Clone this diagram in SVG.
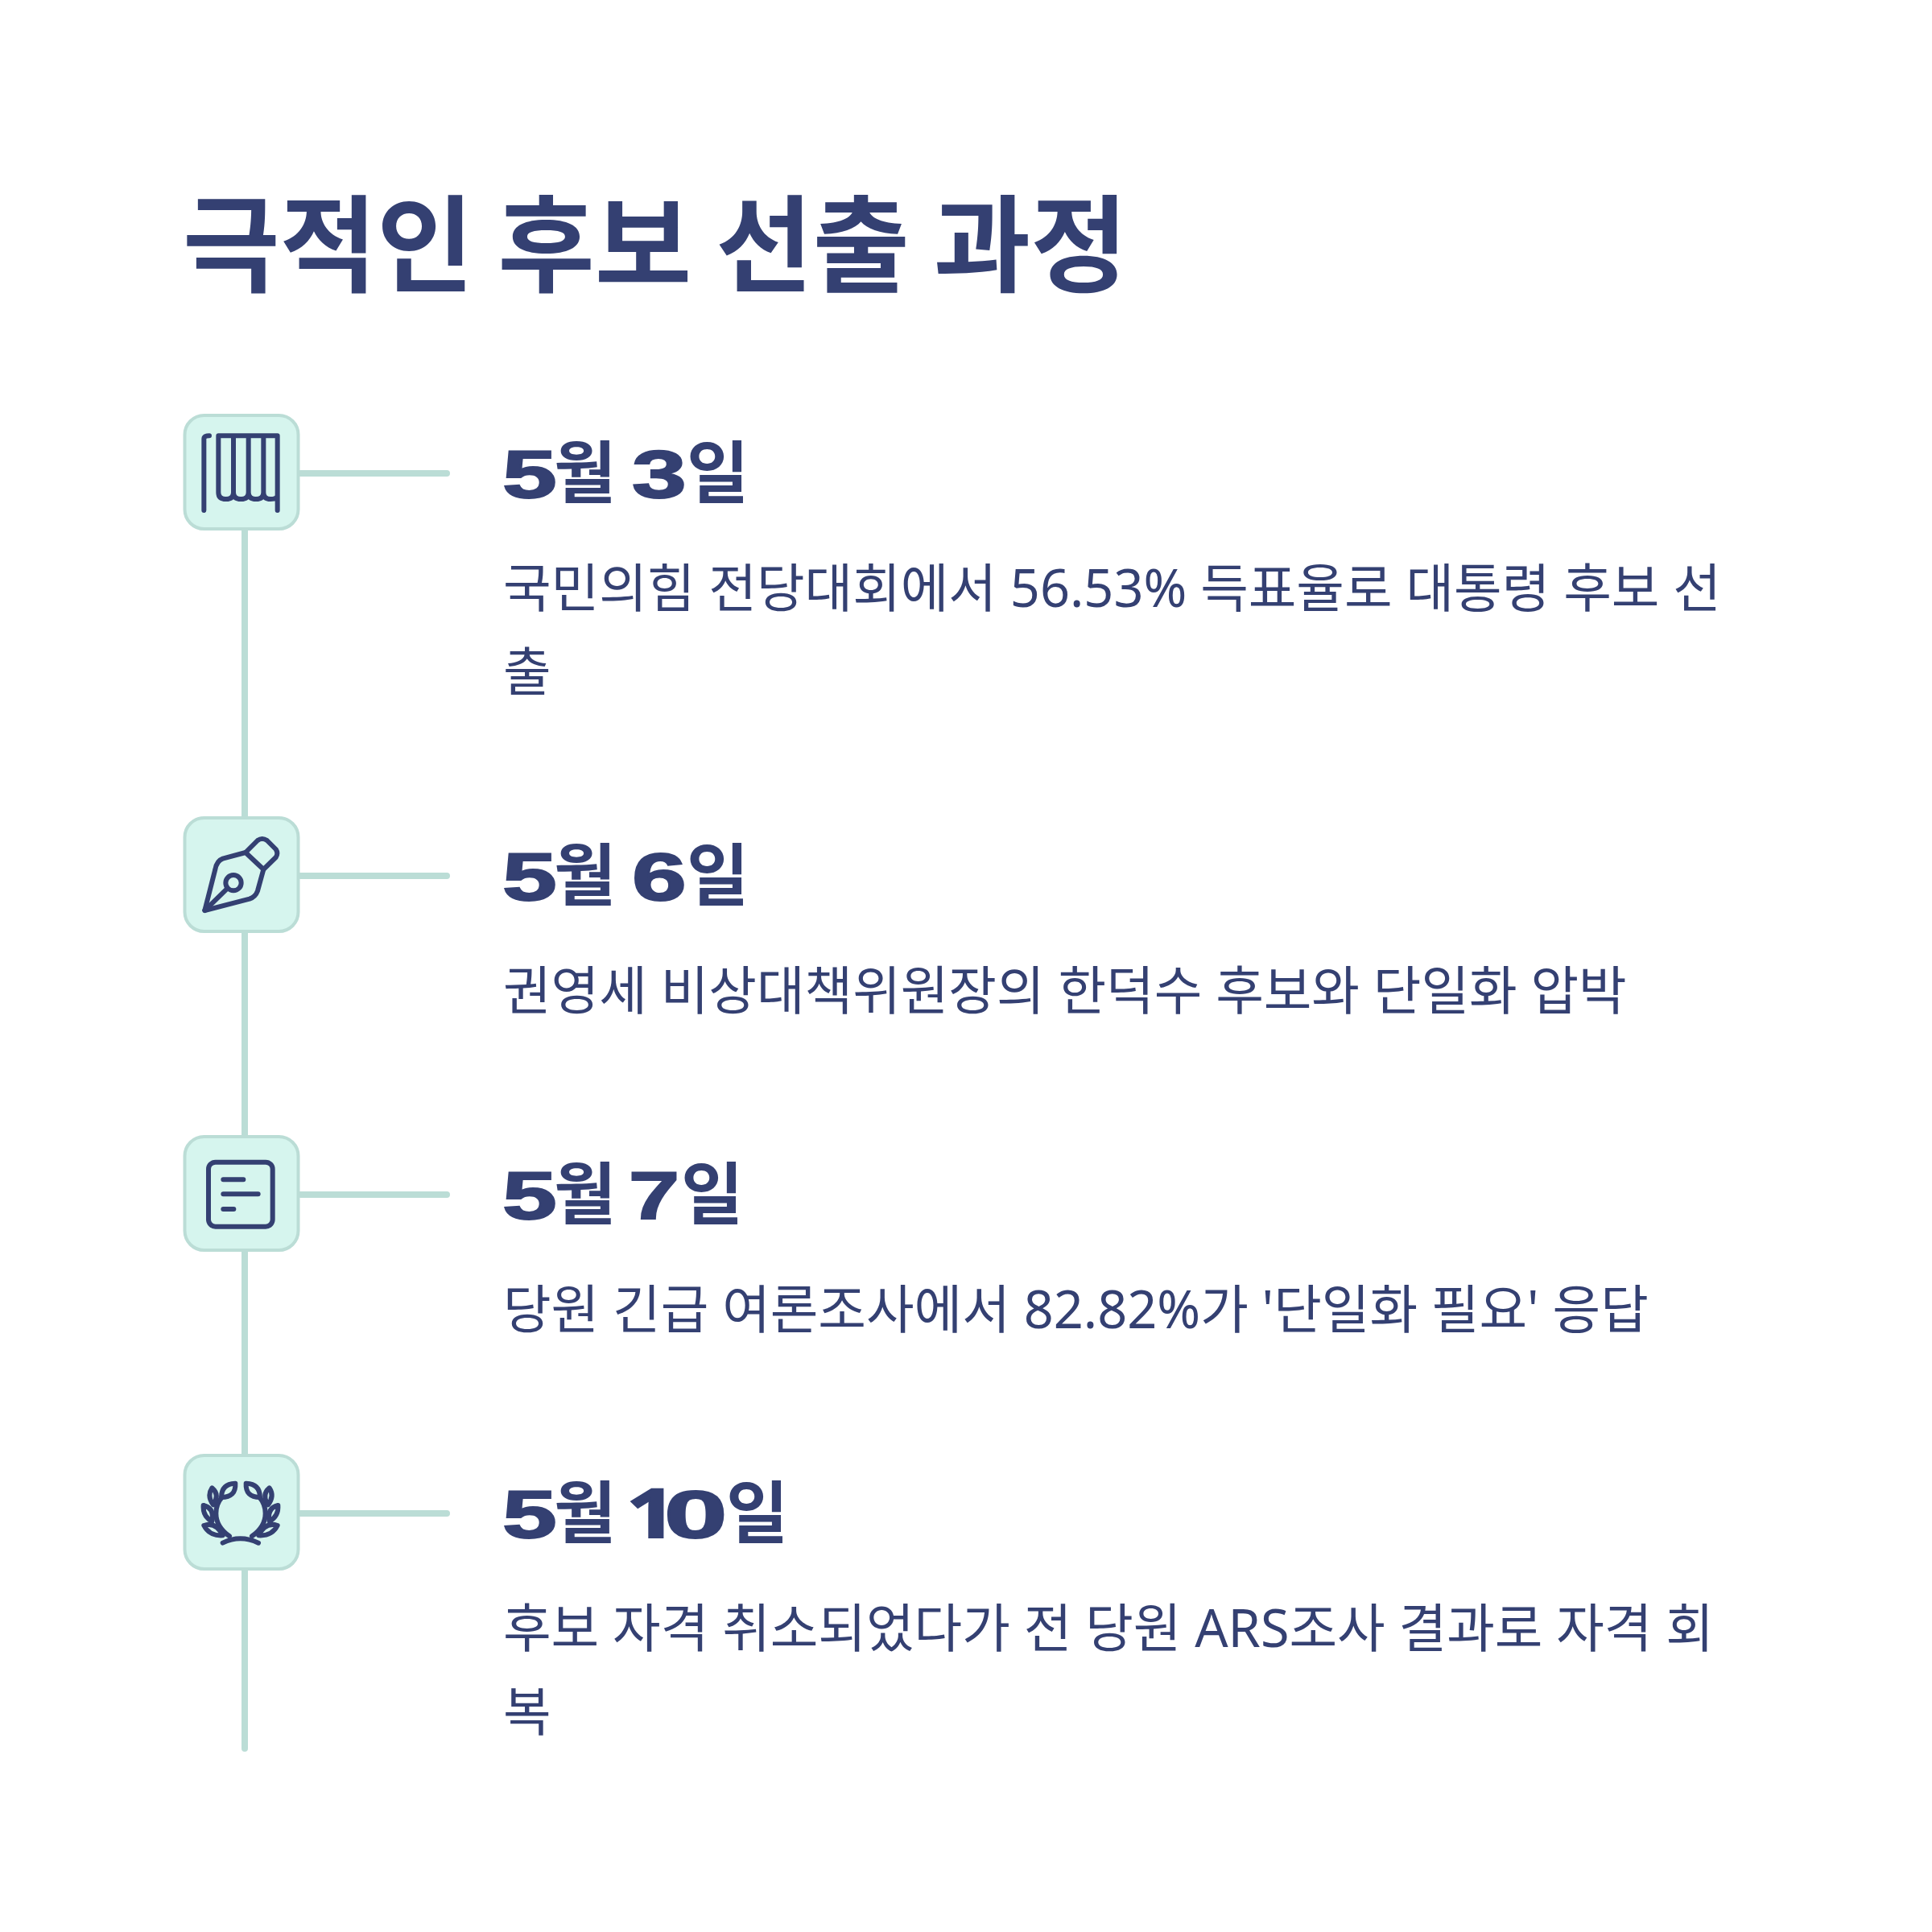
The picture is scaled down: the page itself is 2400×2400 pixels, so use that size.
<svg xmlns="http://www.w3.org/2000/svg" width="2400" height="2400" viewBox="0 0 2400 2400">
<style>
.k{font-family:"Noto Sans CJK KR","Noto Sans",sans-serif;fill:#344072}
.t{font-size:131px;font-weight:700}
.b{font-family:"Noto Sans","Noto Sans CJK KR",sans-serif;font-size:64.800px;font-weight:400;fill:#344072}
.h{font-size:84px;font-weight:700}
.d{font-family:"Liberation Sans",Arial,sans-serif;font-size:84px;font-weight:700;fill:#344072;stroke:#344072;stroke-width:2}
.box{fill:#d6f5ee;stroke:#bbddd6;stroke-width:4}
.ln{stroke:#bbddd6;stroke-width:8;fill:none;stroke-linecap:round}
.ic{fill:none;stroke:#344072;stroke-width:18;stroke-linecap:round;stroke-linejoin:round}
</style>
<rect width="2400" height="2400" fill="#ffffff"/>
<text id="title" class="k t" x="227" y="352">극적인 후보 선출 과정</text>
<g id="connectors">
<path class="ln" d="M304 659V1014M304 1159V1410M304 1555V1806M304 1951V2172"/>
<path class="ln" d="M373 588H555M373 1088H555M373 1484H555M373 1880H555"/>
</g>
<g id="node-1">
<rect class="box" x="229.500" y="516" width="141" height="141" rx="24"/>
<g class="ic" transform="translate(210 500) scale(.33333)"><path d="M130 402V135Q130 124 150 124"/><path d="M404 402V124H184V335Q184 360 212 360Q240 360 240 335V124M240 335Q240 360 268 360Q296 360 296 335V124M296 335Q296 360 324 360Q352 360 352 335V124M352 335Q352 360 378 360Q404 360 404 345"/></g>
<text class="d" transform="translate(624 618) scale(1.45 1)">5</text><text class="k h" x="688" y="618">월</text><text class="d" transform="translate(785 618) scale(1.45 1)">3</text><text class="k h" x="853" y="618">일</text>
<text class="b" x="625" y="754">국민의힘 전당대회에서 56.53% 득표율로 대통령 후보 선</text>
<text class="b" x="625" y="858">출</text>
</g>
<g id="node-2">
<rect class="box" x="229.500" y="1016" width="141" height="141" rx="24"/>
<g class="ic" transform="translate(210 1000) scale(.33333)"><path d="M133 393L172 240Q178 208 200 200L285 177L352 240L330 320Q322 342 300 350Z"/><path d="M285 177L330 132Q347 120 365 132L398 165Q408 180 398 195L352 240"/><circle cx="240" cy="290" r="29"/><path d="M133 393L218 310"/></g>
<text class="d" transform="translate(624 1118) scale(1.45 1)">5</text><text class="k h" x="688" y="1118">월</text><text class="d" transform="translate(785 1118) scale(1.45 1)">6</text><text class="k h" x="853" y="1118">일</text>
<text class="b" x="625" y="1254">권영세 비상대책위원장의 한덕수 후보와 단일화 압박</text>
</g>
<g id="node-3">
<rect class="box" x="229.500" y="1412" width="141" height="141" rx="24"/>
<g class="ic" transform="translate(210 1400) scale(.33333)"><rect x="147" y="131" width="239" height="240" rx="26"/><path d="M202 196H277M202 250H332M202 306H241"/></g>
<text class="d" transform="translate(624 1514) scale(1.45 1)">5</text><text class="k h" x="688" y="1514">월</text><text class="d" transform="translate(781 1514) scale(1.35 1)">7</text><text class="k h" x="846" y="1514">일</text>
<text class="b" x="625" y="1650">당원 긴급 여론조사에서 82.82%가 '단일화 필요' 응답</text>
</g>
<g id="node-4">
<rect class="box" x="229.500" y="1808" width="141" height="141" rx="24"/>
<g class="ic" transform="translate(210 1800) scale(.33333)"><path d="M225 325Q175 290 175 240Q175 205 197 180"/><path d="M195 180Q195 130 247 128Q250 180 195 180Z"/><path d="M165 208Q140 175 160 145Q190 170 165 208Z"/><path d="M160 270Q125 250 128 210Q170 220 160 270Z"/><path d="M200 322Q150 325 130 285Q175 270 200 322Z"/><g transform="matrix(-1 0 0 1 534 0)"><path d="M225 325Q175 290 175 240Q175 205 197 180"/><path d="M195 180Q195 130 247 128Q250 180 195 180Z"/><path d="M165 208Q140 175 160 145Q190 170 165 208Z"/><path d="M160 270Q125 250 128 210Q170 220 160 270Z"/><path d="M200 322Q150 325 130 285Q175 270 200 322Z"/></g><path d="M200 350Q265 318 333 350"/></g>
<text class="d" transform="translate(624 1910) scale(1.45 1)">5</text><text class="k h" x="688" y="1910">월</text><text class="d" style="font-family:'Open Sans',sans-serif" transform="translate(778 1910) scale(1.3 1)">1</text><text class="d" transform="translate(825 1910) scale(1.68 1)">0</text><text class="k h" x="902" y="1910">일</text>
<text class="b" x="625" y="2046">후보 자격 취소되었다가 전 당원 ARS조사 결과로 자격 회</text>
<text class="b" x="625" y="2150">복</text>
</g>
</svg>
